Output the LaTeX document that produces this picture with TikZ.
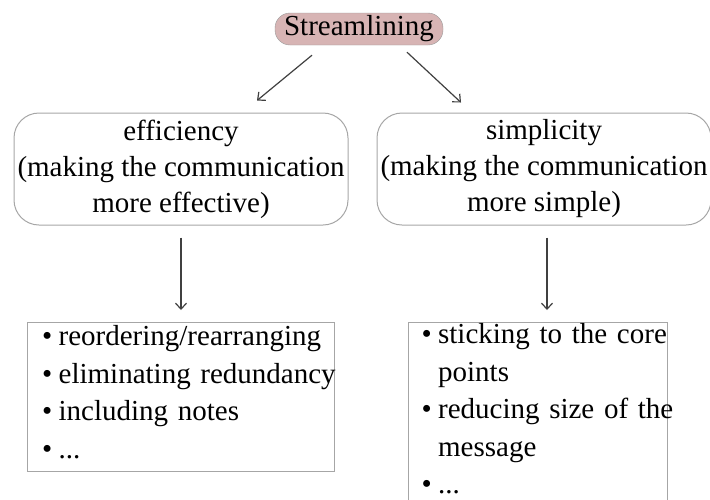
\documentclass[tikz,border=0pt]{standalone}
\usepackage{fontspec}
\setmainfont{Liberation Serif}
\usetikzlibrary{arrows.meta}
\definecolor{rosy}{RGB}{215,180,180}
\newcommand\bul[1]{\mbox{\textbullet\hspace{6.5pt}#1}}
\newcommand\contline[1]{\mbox{\hphantom{\textbullet\hspace{6.5pt}}#1}}

\begin{document}
\begin{tikzpicture}[x=1pt, y=-1pt,
	every node/.style={font=\fontsize{29}{36}\selectfont, text=black},
	topbox/.style={draw=gray!80, fill=rosy, rounded corners=15pt, minimum width=168pt, minimum height=32pt, inner sep=0pt},
	sidebox/.style={draw=gray!70, line width=1pt, rounded corners=25pt, minimum width=334pt, minimum height=112pt, align=center, inner sep=0pt},
	listbox/.style={draw=gray!70, line width=1pt, anchor=north west, align=left, inner ysep=0pt, font=\fontsize{29}{37.5}\selectfont},
	link/.style={draw=black!75, line width=1.2pt, -{Straight Barb[length=6pt,width=11pt]}}]
\useasboundingbox (0,0) rectangle (710,499);
\clip (0,0) rectangle (710,499);

\node[topbox] (top) at (359,29) {Streamlining};

\node[sidebox] (eff) at (181,169) {efficiency\\(making the communication\\more effective)};
\node[sidebox] (simp) at (544,169) {simplicity\\(making the communication\\more simple)};

\node[listbox, inner xsep=14.5pt, text width=278pt] (effl) at (27,322)
	{\rule{0pt}{23pt}\bul{reordering/rearranging}\\
	 \bul{eliminating redundancy}\\
	 \bul{including notes}\\
	 \bul{...}\rule[-13pt]{0pt}{13pt}};
\node[listbox, inner xsep=13pt, text width=233pt] (simpl) at (408,322)
	{\rule{0pt}{21pt}\bul{sticking to the core}\\
	 \contline{points}\\
	 \bul{reducing size of the}\\
	 \contline{message}\\
	 \bul{...}\rule[-13pt]{0pt}{13pt}};

% arrows
\draw[link] ([xshift=-47pt,yshift=-10pt]top.south) -- ([xshift=76pt,yshift=12pt]eff.north);
\draw[link] ([xshift=48pt,yshift=-7pt]top.south) -- ([xshift=-83pt,yshift=10pt]simp.north);
\draw[link, shorten <=12pt, shorten >=12pt] (eff.south) -- (eff.south |- effl.north);
\draw[link, shorten <=12pt, shorten >=12pt] ([xshift=3pt]simp.south) -- ([xshift=3pt]simp.south |- simpl.north);
\end{tikzpicture}
\end{document}
